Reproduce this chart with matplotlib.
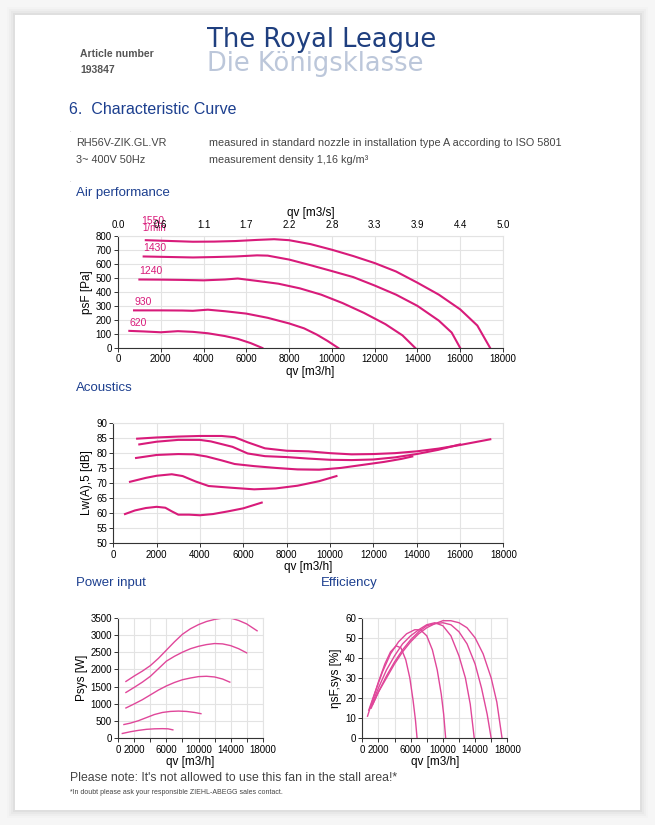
import matplotlib.pyplot as plt
import matplotlib.patches as mpatches
import numpy as np

plt.rcParams['font.family'] = ['Liberation Sans', 'DejaVu Sans']

speeds = ["1550", "1430", "1240", "930", "620"]

# Air performance: qv [m3/h] -> psF [Pa]
air_x = {
    "1550": [1300, 2500, 3500, 4500, 5500, 6500, 7300, 8000, 9000, 10000, 11000, 12000, 13000, 14000, 15000, 16000, 16800, 17400],
    "1430": [1200, 2500, 3500, 4500, 5500, 6500, 7000, 8000, 9000, 10000, 11000, 12000, 13000, 14000, 15000, 15600, 16000],
    "1240": [1000, 2000, 3000, 4000, 5000, 5600, 6500, 7500, 8500, 9500, 10500, 11500, 12500, 13300, 13900],
    "930": [750, 2000, 3000, 3500, 4200, 5000, 6000, 7000, 8000, 8700, 9300, 9800, 10300],
    "620": [530, 1200, 2000, 2800, 3500, 4200, 5000, 5600, 6200, 6750],
}
air_y = {
    "1550": [768, 762, 757, 758, 762, 770, 775, 768, 740, 700, 655, 605, 545, 465, 380, 275, 160, 0],
    "1430": [652, 648, 645, 648, 652, 660, 658, 630, 590, 548, 505, 445, 380, 300, 195, 110, 0],
    "1240": [488, 487, 485, 482, 488, 495, 478, 458, 425, 380, 320, 250, 170, 90, 0],
    "930": [268, 268, 267, 265, 273, 262, 245, 215, 175, 140, 95, 50, 0],
    "620": [122, 118, 112, 120, 115, 105, 85, 65, 35, 0],
}
top_labels = ["0.0", "0.6", "1.1", "1.7", "2.2", "2.8", "3.3", "3.9", "4.4", "5.0"]

# Acoustics: qv [m3/h] -> Lw(A),5 [dB]
ac_x = {
    "1550": [1100, 2000, 3000, 4000, 5000, 5600, 6200, 7000, 8000, 9000, 10000, 11000, 12000, 13000, 14000, 15000, 16000, 17400],
    "1430": [1200, 2000, 3000, 4000, 4500, 5500, 6200, 7000, 8000, 9000, 10000, 11000, 12000, 13000, 14000, 15000, 16000],
    "1240": [1050, 2000, 3000, 3700, 4300, 5000, 5600, 6500, 7500, 8500, 9500, 10500, 11500, 12500, 13300, 13800],
    "930": [770, 1500, 2000, 2700, 3200, 3800, 4400, 5500, 6500, 7500, 8500, 9500, 10300],
    "620": [540, 1000, 1500, 2000, 2400, 2700, 3000, 3500, 4000, 4600, 5300, 6000, 6850],
}
ac_y = {
    "1550": [84.7, 85.1, 85.4, 85.6, 85.6, 85.2, 83.5, 81.5, 80.7, 80.5, 79.9, 79.5, 79.6, 79.9, 80.5, 81.4, 82.6, 84.5],
    "1430": [82.8, 83.7, 84.3, 84.3, 83.8, 82.0, 79.8, 78.9, 78.6, 78.1, 77.7, 77.6, 77.8, 78.5, 79.6, 81.0, 82.8],
    "1240": [78.3, 79.3, 79.6, 79.5, 78.8, 77.5, 76.3, 75.6, 75.0, 74.5, 74.4, 75.0, 76.0, 77.0, 78.0, 78.8],
    "930": [70.4, 71.7, 72.4, 72.9, 72.3, 70.5, 69.0, 68.4, 67.9, 68.2, 69.1, 70.6, 72.3],
    "620": [59.7, 60.9, 61.7, 62.1, 61.8, 60.6, 59.5, 59.5, 59.3, 59.7, 60.6, 61.6, 63.5],
}

# Power input: qv [m3/h] -> Psys [W]
pw_x = {
    "1550": [950, 2000, 3000, 4000, 5000, 6000, 7000, 8000, 9000, 10000, 11000, 12000, 13000, 14000, 15000, 16000, 17300],
    "1430": [950, 2000, 3000, 4000, 5000, 6000, 7000, 8000, 9000, 10000, 11000, 12000, 13000, 14000, 15000, 16000],
    "1240": [950, 2000, 3000, 4000, 5000, 6000, 7000, 8000, 9000, 10000, 11000, 12000, 13000, 13900],
    "930": [700, 1500, 2500, 3500, 4500, 5500, 6500, 7500, 8500, 9500, 10300],
    "620": [500, 1500, 2500, 3500, 4500, 5500, 6200, 6800],
}
pw_y = {
    "1550": [1650, 1810, 1950, 2110, 2320, 2560, 2800, 3020, 3180, 3300, 3390, 3450, 3490, 3490, 3420, 3320, 3120],
    "1430": [1330, 1480, 1630, 1800, 2020, 2240, 2380, 2500, 2600, 2670, 2720, 2750, 2740, 2690, 2600, 2480],
    "1240": [880, 1000, 1120, 1260, 1400, 1520, 1620, 1700, 1750, 1790, 1800, 1780, 1720, 1630],
    "930": [400, 440, 510, 600, 690, 750, 780, 790, 780, 750, 715],
    "620": [140, 190, 230, 260, 275, 280, 275, 245],
}

# Efficiency: qv [m3/h] -> etasF,sys [%]
ef_x = {
    "1550": [1300, 2000, 3000, 4000, 5000, 6000, 7000, 8000, 9000, 10000, 11000, 12000, 13000, 14000, 15000, 16000, 16700, 17350],
    "1430": [1100, 2000, 3000, 4000, 5000, 6000, 7000, 8000, 9000, 10000, 11000, 12000, 13000, 14000, 14800, 15500, 16000],
    "1240": [1000, 2000, 3000, 4000, 5000, 6000, 7000, 8000, 9000, 10000, 11000, 12000, 12800, 13400, 13900],
    "930": [800, 1500, 2500, 3500, 4500, 5500, 6500, 7200, 8000, 8700, 9300, 9800, 10100, 10350],
    "620": [650, 1200, 2000, 2800, 3500, 4200, 4800, 5400, 5900, 6300, 6600, 6800],
}
ef_y = {
    "1550": [17, 23, 30, 37, 43, 48, 52, 55, 57, 58.5, 58.5, 57.5, 55, 50, 42, 30, 18, 0],
    "1430": [15, 23, 31, 38, 44, 49, 53, 56, 57, 57.5, 56.5, 53, 47, 37, 25, 12, 0],
    "1240": [15, 25, 34, 41, 47, 51, 54, 56.5, 57.5, 56, 51, 41, 30, 17, 0],
    "930": [14, 22, 33, 42, 48, 52, 54, 54, 51, 44, 34, 22, 12, 0],
    "620": [11, 18, 28, 37, 43, 46, 45, 39, 30, 19, 9, 0],
}

# === Stil ===
W, H = 655, 825
curve_col = "#d81b7a"
light_col = "#e0479a"
blue = "#1c3f8f"
txt_col = "#444444"
grid_col = "#e3e3e3"
tick_fs = 7


def px(x, y):
    return x / W, 1 - y / H


def axes_px(l, t, r, b):
    return fig.add_axes([l / W, 1 - b / H, (r - l) / W, (b - t) / H])


def style_ax(ax):
    ax.grid(True, color=grid_col, linewidth=0.8)
    ax.set_axisbelow(True)
    for s in ["top", "right"]:
        ax.spines[s].set_color(grid_col)
    for s in ["left", "bottom"]:
        ax.spines[s].set_color("#333333")
        ax.spines[s].set_linewidth(0.8)
    ax.tick_params(labelsize=tick_fs, length=3, width=0.7, color="#333333", pad=1.5)


fig = plt.figure(figsize=(W / 100, H / 100), dpi=100)
fig.patch.set_facecolor("#f6f6f6")

# Seite mit weichem Schatten (hinter allen Achsen)
for i, a in enumerate([0.012, 0.018, 0.025, 0.035]):
    d = 8 - 2 * i
    fig.patches.append(mpatches.Rectangle(px(15 - d, 810 + d), (625 + 2 * d) / W, (795 + 2 * d) / H,
                                          transform=fig.transFigure, color="black", alpha=a, lw=0,
                                          zorder=-20))
fig.patches.append(mpatches.Rectangle(px(15, 810), 625 / W, 795 / H, transform=fig.transFigure,
                                      color="white", lw=0, zorder=-10))

# === Kopfbereich ===
fig.text(*px(80, 54), "Article number", fontsize=7.5, fontweight="bold", color="#555555", va="center")
fig.text(*px(80, 70), "193847", fontsize=7.5, fontweight="bold", color="#555555", va="center")
fig.text(*px(207, 40), "The Royal League", fontsize=18.5, color="#1f3f7f", va="center",
         family="DejaVu Sans")
fig.text(*px(207, 64), "Die Königsklasse", fontsize=18.5, color="#bcc7da", va="center",
         family="DejaVu Sans")

fig.text(*px(69, 110), "6.  Characteristic Curve", fontsize=11.5, color=blue, va="center")
fig.text(*px(69, 132), ".", fontsize=4, color="#999999", va="baseline")
fig.text(*px(76, 143), "RH56V-ZIK.GL.VR", fontsize=7.8, color=txt_col, va="center")
fig.text(*px(76, 160), "3~ 400V 50Hz", fontsize=7.8, color=txt_col, va="center")
fig.text(*px(209, 143), "measured in standard nozzle in installation type A according to ISO 5801",
         fontsize=7.8, color=txt_col, va="center")
fig.text(*px(209, 160), "measurement density 1,16 kg/m³", fontsize=7.8, color=txt_col, va="center")
fig.text(*px(69, 182), ".", fontsize=4, color="#999999", va="baseline")

# === Air performance ===
fig.text(*px(76, 193), "Air performance", fontsize=9.5, color=blue, va="center")
ax1 = axes_px(118, 235.7, 503, 348)
for s in speeds:
    ax1.plot(air_x[s], air_y[s], color=curve_col, lw=1.5)
ax1.set_xlim(0, 18000)
ax1.set_ylim(0, 800)
ax1.set_xticks(np.arange(0, 18001, 2000))
ax1.set_yticks(np.arange(0, 801, 100))
style_ax(ax1)
ax1.set_xlabel("qv [m3/h]", fontsize=8.5, labelpad=1)
ax1.set_ylabel("psF [Pa]", fontsize=8.5, labelpad=2)
ax1t = ax1.twiny()
ax1t.set_xlim(0, 18000)
ax1t.set_xticks(np.arange(0, 18001, 2000))
ax1t.set_xticklabels(top_labels)
ax1t.tick_params(labelsize=tick_fs, length=0, pad=4)
for s in ax1t.spines.values():
    s.set_visible(False)
ax1t.set_xlabel("qv [m3/s]", fontsize=8.5, labelpad=3)
# Drehzahl-Beschriftung
lab_pos = {"1550": (1100, 905), "1430": (1200, 712), "1240": (1000, 548), "930": (750, 328), "620": (530, 180)}
for s in speeds:
    ax1.text(lab_pos[s][0], lab_pos[s][1], s, color=curve_col, fontsize=7.5, ha="left", va="center",
             clip_on=False)
ax1.text(1150, 852, "1/min", color=curve_col, fontsize=7, ha="left", va="center", clip_on=False)

# === Acoustics ===
fig.text(*px(76, 388), "Acoustics", fontsize=9.5, color=blue, va="center")
ax2 = axes_px(113.3, 422.7, 503.3, 543.3)
for s in speeds:
    ax2.plot(ac_x[s], ac_y[s], color=curve_col, lw=1.5)
ax2.set_xlim(0, 18000)
ax2.set_ylim(50, 90)
ax2.set_xticks(np.arange(0, 18001, 2000))
ax2.set_yticks(np.arange(50, 91, 5))
style_ax(ax2)
ax2.set_xlabel("qv [m3/h]", fontsize=8.5, labelpad=1)
ax2.set_ylabel("Lw(A),5 [dB]", fontsize=8.5, labelpad=2)

small_ticks = np.arange(0, 18001, 2000)
small_labels = ["0", "2000", "", "6000", "", "10000", "", "14000", "", "18000"]

# === Power input ===
fig.text(*px(76, 583), "Power input", fontsize=9.5, color=blue, va="center")
ax3 = axes_px(118.3, 617.7, 262.7, 738.3)
for s in speeds:
    ax3.plot(pw_x[s], pw_y[s], color=light_col, lw=1.0)
ax3.set_xlim(0, 18000)
ax3.set_ylim(0, 3500)
ax3.set_xticks(small_ticks)
ax3.set_xticklabels(small_labels)
ax3.set_yticks(np.arange(0, 3501, 500))
style_ax(ax3)
ax3.set_xlabel("qv [m3/h]", fontsize=8.5, labelpad=1)
ax3.set_ylabel("Psys [W]", fontsize=8.5, labelpad=2)

# === Efficiency ===
fig.text(*px(321, 583), "Efficiency", fontsize=9.5, color=blue, va="center")
ax4 = axes_px(362.3, 617.7, 507.3, 738.3)
for s in speeds:
    ax4.plot(ef_x[s], ef_y[s], color=light_col, lw=1.0)
ax4.set_xlim(0, 18000)
ax4.set_ylim(0, 60)
ax4.set_xticks(small_ticks)
ax4.set_xticklabels(small_labels)
ax4.set_yticks(np.arange(0, 61, 10))
style_ax(ax4)
ax4.set_xlabel("qv [m3/h]", fontsize=8.5, labelpad=1)
ax4.set_ylabel("ηsF,sys [%]", fontsize=8.5, labelpad=2)

# === Fußnote ===
fig.text(*px(70, 778), "Please note: It's not allowed to use this fan in the stall area!*",
         fontsize=8.8, color=txt_col, va="center")
fig.text(*px(70, 793), "*In doubt please ask your responsible ZIEHL-ABEGG sales contact.",
         fontsize=5, color=txt_col, va="center")

fig.savefig("out.png", dpi=100)
